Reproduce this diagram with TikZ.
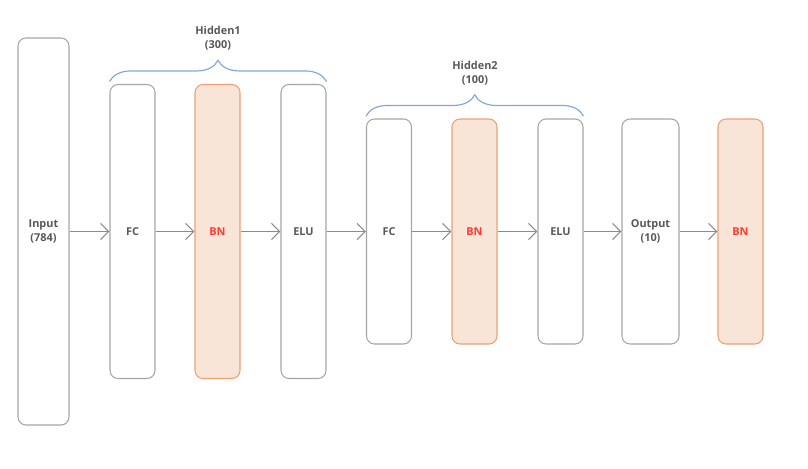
\documentclass[tikz,border=0pt]{standalone}
\usepackage{fontspec}
\setmainfont{Open Sans}
\usetikzlibrary{arrows.meta,decorations.pathreplacing}

\definecolor{boxgray}{HTML}{A6A6A6}
\definecolor{textgray}{HTML}{595959}
\definecolor{arrowgray}{HTML}{8C8C8C}
\definecolor{bnfill}{HTML}{F8E5D8}
\definecolor{bnline}{HTML}{EFA070}
\definecolor{bntext}{HTML}{FF3B30}
\definecolor{braceblue}{HTML}{7FA9DD}

\tikzset{
  layer/.style={draw=boxgray,line width=.9pt,rounded corners=.24cm,fill=white,
    inner sep=0pt,minimum width=1.35cm,text=textgray,align=center},
  bnlayer/.style={layer,draw=bnline,fill=bnfill,text=bntext},
  flow/.style={draw=arrowgray,line width=.9pt,
    -{Straight Barb[length=7pt,width=14pt]}},
  brace/.style={draw=braceblue,line width=1pt,decorate,decoration={brace,amplitude=.64cm}},
  bracelabel/.style={text=textgray,align=center}
}

\begin{document}
\begin{tikzpicture}[x=.03cm,y=-.03cm,font=\fontsize{9.3}{11.5}\selectfont\bfseries]
\useasboundingbox[fill=white] (0,0) rectangle (808,468);
% layers
\node[layer,minimum width=1.53cm,minimum height=11.61cm] (inp) at (43.5,231.5) {Input\\(784)};
\node[layer,minimum height=8.82cm] (fc1) at (132.5,231.5) {FC};
\node[bnlayer,minimum height=8.82cm] (bn1) at (217.5,231.5) {BN};
\node[layer,minimum height=8.82cm] (elu1) at (303.5,231.5) {ELU};
\node[layer,minimum height=6.75cm] (fc2) at (389,231.5) {FC};
\node[bnlayer,minimum height=6.75cm] (bn2) at (474.5,231.5) {BN};
\node[layer,minimum height=6.75cm] (elu2) at (560.5,231.5) {ELU};
\node[layer,minimum width=1.71cm,minimum height=6.75cm] (out) at (650.5,231.5) {Output\\(10)};
\node[bnlayer,minimum height=6.75cm] (bn3) at (740.5,231.5) {BN};
% connections
\draw[flow] (inp) -- (fc1);
\draw[flow] (fc1) -- (bn1);
\draw[flow] (bn1) -- (elu1);
\draw[flow] (elu1) -- (fc2);
\draw[flow] (fc2) -- (bn2);
\draw[flow] (bn2) -- (elu2);
\draw[flow] (elu2) -- (out);
\draw[flow] (out) -- (bn3);
% hidden groups
\draw[brace] ([yshift=2pt]fc1.north west) -- ([yshift=2pt]elu1.north east);
\node[bracelabel] (hid1) at (218,38) {Hidden1\\(300)};
\draw[brace] ([yshift=2pt]fc2.north west) -- ([yshift=2pt]elu2.north east);
\node[bracelabel] (hid2) at (475,73) {Hidden2\\(100)};
\end{tikzpicture}
\end{document}
